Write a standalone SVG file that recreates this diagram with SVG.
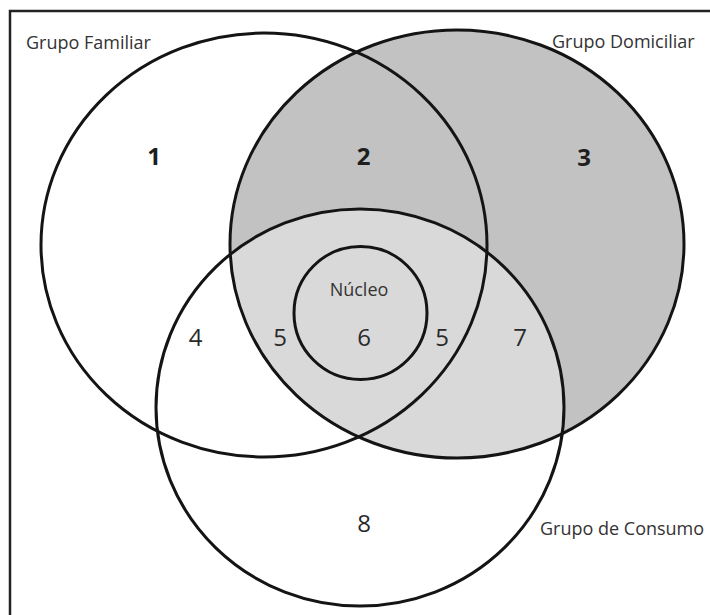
<svg xmlns="http://www.w3.org/2000/svg" width="710" height="615" viewBox="0 0 710 615">
  <style>
    .ring { fill: none; stroke: #141414; stroke-width: 3; }
    .label { font-family: "Open Sans", "Liberation Sans", sans-serif; font-size: 18px; fill: #333333; }
    .num { font-family: "Open Sans", "Liberation Sans", sans-serif; font-size: 24px; fill: #2a2a2a; text-anchor: middle; }
    .bold { font-weight: bold; fill: #1e1e1e; }
  </style>
  <defs>
    <clipPath id="clip-domiciliar">
      <ellipse cx="457" cy="244" rx="227" ry="214"/>
    </clipPath>
  </defs>

  <rect x="0" y="0" width="710" height="615" fill="#ffffff"/>
  <!-- outer frame (continues past the right and bottom edges) -->
  <rect x="10" y="11" width="740" height="640" fill="none" stroke="#222222" stroke-width="2.5"/>

  <!-- shading: household circle dark, its overlap with consumption lighter -->
  <g id="shading">
    <ellipse cx="457" cy="244" rx="227" ry="214" fill="#c2c2c2"/>
    <ellipse cx="360" cy="407.5" rx="204" ry="198.5" fill="#d9d9d9" clip-path="url(#clip-domiciliar)"/>
  </g>

  <g id="grupo-familiar">
    <ellipse class="ring" cx="264" cy="245" rx="223" ry="212"/>
    <text class="label" x="26" y="49">Grupo Familiar</text>
  </g>

  <g id="grupo-domiciliar">
    <ellipse class="ring" cx="457" cy="244" rx="227" ry="214"/>
    <text class="label" x="552" y="48">Grupo Domiciliar</text>
  </g>

  <g id="grupo-consumo">
    <ellipse class="ring" cx="360" cy="407.5" rx="204" ry="198.5"/>
    <text class="label" x="540" y="535">Grupo de Consumo</text>
  </g>

  <g id="nucleo">
    <circle class="ring" cx="360.5" cy="313" r="66.5"/>
    <text class="label" x="359" y="296" text-anchor="middle">Núcleo</text>
  </g>

  <!-- region numbers -->
  <g id="regions">
    <text class="num bold" x="154" y="165">1</text>
    <text class="num bold" x="363.5" y="165">2</text>
    <text class="num bold" x="584" y="166">3</text>
    <text class="num" x="195.5" y="346">4</text>
    <text class="num" x="280" y="346">5</text>
    <text class="num" x="364" y="346">6</text>
    <text class="num" x="442" y="346">5</text>
    <text class="num" x="520" y="346">7</text>
    <text class="num" x="364" y="532">8</text>
  </g>
</svg>
